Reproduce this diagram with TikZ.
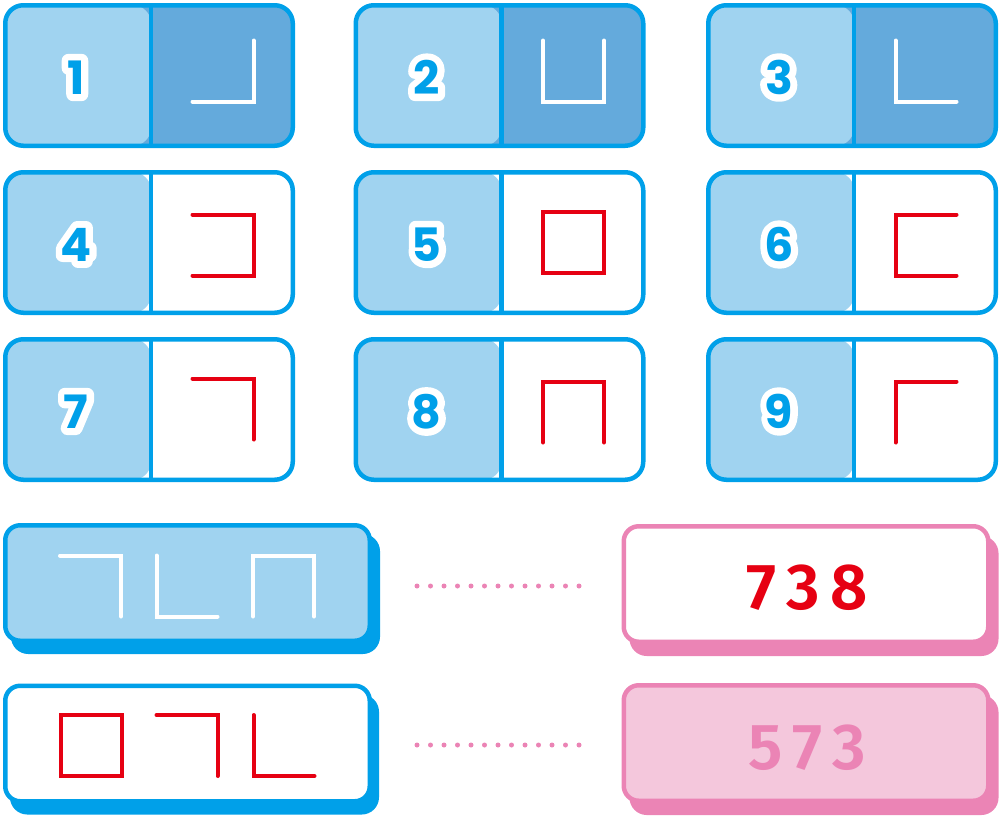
\documentclass[tikz,border=0pt]{standalone}
\usepackage{fontspec}
\usetikzlibrary{shadows,calc}
\newfontfamily\digitfont{Poppins}
\newfontfamily\digitout{Poppins}[FakeBold=30]
\newfontfamily\numfont{Fira Sans SemiBold}
\definecolor{bbd}{HTML}{00A0E9}
\definecolor{blt}{HTML}{A0D3F0}
\definecolor{bdk}{HTML}{64AADC}
\definecolor{rd}{HTML}{E60012}
\definecolor{pk}{HTML}{EB84B5}
\definecolor{pklt}{HTML}{F4C7DC}
\tikzset{
  gridbox/.style={draw=bbd, line width=4.5pt, rounded corners=18pt, minimum width=287.5pt, minimum height=140.5pt, inner sep=0pt, rectangle},
  divider/.style={draw=bbd, line width=4.5pt},
  symline/.style={line width=4pt, line cap=round, line join=miter},
  digit/.style={font=\digitfont\bfseries\fontsize{46}{46}\selectfont, text=bbd, inner sep=0pt},
  digitback/.style={font=\digitout\bfseries\fontsize{46}{46}\selectfont, text=white, inner sep=0pt, line join=round, line cap=round},
  bigbox/.style={line width=4.5pt, rounded corners=15pt, minimum width=364.5pt, minimum height=115.5pt, inner sep=0pt, rectangle},
  bignum/.style={font=\numfont\fontsize{65}{65}\selectfont, inner sep=0pt},
  dotline/.style={draw=pk, line width=5pt, line cap=round, dash pattern=on 0pt off 13.5pt},
  sym1/.pic={\draw[symline] (-30.5,30.5) -- (30.5,30.5) -- (30.5,-30.5);},
  sym2/.pic={\draw[symline] (-30.5,-30.5) -- (-30.5,30.5) -- (30.5,30.5) -- (30.5,-30.5);},
  sym3/.pic={\draw[symline] (-30.5,-30.5) -- (-30.5,30.5) -- (30.5,30.5);},
  sym4/.pic={\draw[symline] (-30.5,-30.5) -- (30.5,-30.5) -- (30.5,30.5) -- (-30.5,30.5);},
  sym5/.pic={\draw[symline] (-30.5,-30.5) rectangle (30.5,30.5);},
  sym6/.pic={\draw[symline] (30.5,-30.5) -- (-30.5,-30.5) -- (-30.5,30.5) -- (30.5,30.5);},
  sym7/.pic={\draw[symline] (-30.5,-30.5) -- (30.5,-30.5) -- (30.5,30.5);},
  sym8/.pic={\draw[symline] (-30.5,30.5) -- (-30.5,-30.5) -- (30.5,-30.5) -- (30.5,30.5);},
  sym9/.pic={\draw[symline] (30.5,-30.5) -- (-30.5,-30.5) -- (-30.5,30.5);},
}
\begin{document}
\begin{tikzpicture}[x=1pt,y=-1pt]
\useasboundingbox (0,0) rectangle (1000,817);
% grid of nine cells
\foreach \n/\cx/\cy/\rfill/\scol/\sy in {
  1/149/75.5/bdk/white/71, 2/499.5/75.5/bdk/white/71, 3/852/75.5/bdk/white/71,
  4/149/242.5/white/rd/245, 5/499.5/242.5/white/rd/242, 6/852/242.5/white/rd/245,
  7/149/409.5/white/rd/409, 8/499.5/409.5/white/rd/412, 9/852/409.5/white/rd/412}{
  \node[gridbox, fill=\rfill, path picture={\fill[blt] (path picture bounding box.north west) rectangle ([xshift=2pt]path picture bounding box.south);}] (b\n) at (\cx,\cy) {};
  \draw[divider] ([xshift=2pt]b\n.north) -- ([xshift=2pt]b\n.south);
  \begin{scope}[line join=round, line cap=round]
    \node[digitback] (o\n) at ({\cx-73},{\cy+2}) {\n};
  \end{scope}
  \node[digit] (d\n) at ({\cx-73},{\cy+2}) {\n};
  \pic[color=\scol] (s\n) at ({\cx+74},\sy) {sym\n};
}
% bottom boxes
\node[bigbox, fill=blt, draw=bbd, general shadow={fill=bbd, draw=bbd, line width=4.5pt, shadow xshift=8pt, shadow yshift=-11pt}] (a) at (187.5,583) {};
\node[bigbox, fill=white, draw=bbd, general shadow={fill=bbd, draw=bbd, line width=4.5pt, shadow xshift=7pt, shadow yshift=-11pt}] (b) at (187.5,743.5) {};
\node[bigbox, fill=white, draw=pk, general shadow={fill=pk, draw=pk, line width=4.5pt, shadow xshift=8pt, shadow yshift=-12pt}] (c) at (806,584) {};
\node[bigbox, fill=pklt, draw=pk, general shadow={fill=pk, draw=pk, line width=4.5pt, shadow xshift=8pt, shadow yshift=-12pt}] (d) at (806,743) {};
% symbols in bottom boxes
\pic[color=white] (a1) at (90.5,586) {sym7};
\pic[color=white] (a2) at (187,586) {sym3};
\pic[color=white] (a3) at (283.5,586) {sym8};
\pic[color=rd] (b1s) at (91,745.5) {sym5};
\pic[color=rd] (b2s) at (187,745.5) {sym7};
\pic[color=rd] (b3s) at (284,745.5) {sym3};
% numbers
\node[bignum, text=rd] (t738) at (807,588) {7\kern10pt3\kern10pt8};
\node[bignum, text=pk] (t573) at (807,747.5) {5\kern10pt7\kern10pt3};
% dotted connectors
\draw[dotline] ($(a.east)+(45,3)$) -- ($(a.east -| c.west)+(-42,3)$);
\draw[dotline] ($(b.east)+(45,1.5)$) -- ($(b.east -| d.west)+(-42,1.5)$);
\end{tikzpicture}
\end{document}
